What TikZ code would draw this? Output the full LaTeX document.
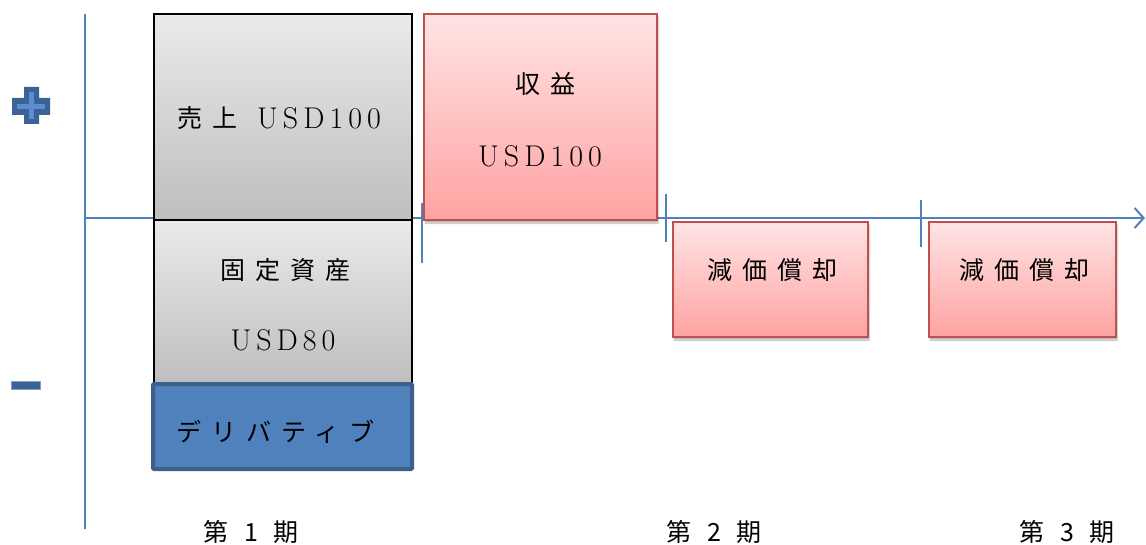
\documentclass[tikz,border=0pt]{standalone}
\usepackage{fontspec}
\setmainfont{Latin Modern Roman}
\newfontfamily\jp[LetterSpace=40]{Noto Sans CJK JP}
\newfontfamily\lat{Latin Modern Roman}
\newcommand\usdh{U\kern5pt S\kern5pt D\kern5pt 1\kern5pt 0\kern5pt 0}
\newcommand\usde{U\kern5pt S\kern5pt D\kern5pt 8\kern5pt 0}
\usetikzlibrary{arrows.meta,shadows.blur}
\definecolor{axisblue}{HTML}{4F81BD}
\definecolor{darkblue}{HTML}{3B6396}
\definecolor{lightcross}{HTML}{5A8ED0}
\definecolor{pinkedge}{HTML}{C0504D}
\definecolor{pinktop}{HTML}{FFE4E4}
\definecolor{pinkbot}{HTML}{FFA2A2}
\definecolor{graytop}{HTML}{EAEAEA}
\definecolor{graybot}{HTML}{BEBEBE}
\definecolor{derivfill}{HTML}{4F81BD}
\definecolor{derivedge}{HTML}{3C5F8C}
\begin{document}
\begin{tikzpicture}[x=1pt,y=-1pt,
  axisline/.style={draw=axisblue,line width=2pt},
  graybox/.style={draw=black,line width=2pt,top color=graytop,bottom color=graybot,inner sep=0pt},
  pinkbox/.style={draw=pinkedge,line width=1.6pt,top color=pinktop,bottom color=pinkbot,inner sep=0pt,
    blur shadow={shadow xshift=1pt,shadow yshift=-3pt,shadow blur steps=6,shadow opacity=30}},
  derivbox/.style={draw=derivedge,line width=4pt,fill=derivfill,inner sep=0pt,rounded corners=1pt},
  jtxt/.style={font=\fontsize{25}{28}\selectfont\jp,inner sep=0pt,text=black},
  ltxt/.style={font=\fontsize{30}{32}\selectfont\lat,inner sep=0pt,text=black},
  lbl/.style={font=\fontsize{25}{28}\selectfont\jp,inner sep=0pt,text=black}]
\useasboundingbox (0,0) rectangle (1146,545);
% axes
\coordinate (vtop) at (85,14);
\coordinate (vbot) at (85,529);
\coordinate (hleft) at (85,218);
\coordinate (hright) at (1145,218);
\draw[axisline] (vtop) -- (vbot);
\draw[axisline,-{Straight Barb[length=9pt,width=20pt,line width=2pt]}] (hleft) -- (hright);
\coordinate (t1a) at (422,203); \coordinate (t1b) at (422,263);
\coordinate (t2a) at (666,194); \coordinate (t2b) at (666,242);
\coordinate (t3a) at (921,200); \coordinate (t3b) at (921,247);
\draw[axisline] (t1a) -- (t1b);
\draw[axisline] (t2a) -- (t2b);
\draw[axisline] (t3a) -- (t3b);
% plus sign
\fill[darkblue] (24,87) -- (39,87) -- (39,98) -- (50,98) -- (50,115) -- (39,115) -- (39,124) -- (24,124) -- (24,115) -- (12,115) -- (12,98) -- (24,98) -- cycle;
\draw[lightcross,line width=5pt] (17,106.5) -- (45,106.5);
\draw[lightcross,line width=5pt] (31.5,92) -- (31.5,119);
% minus sign
\draw[darkblue!60!white,fill=darkblue,line width=1pt] (11,381) rectangle (40,389);
% period 1 boxes
\node[graybox,minimum width=258pt,minimum height=206pt] (sales) at (283,117) {};
\node[jtxt,anchor=west] (salesT1) at (177,118) {売上};
\node[ltxt,anchor=west] (salesT2) at (257,118) {\usdh};
\node[graybox,minimum width=258pt,minimum height=163pt] (asset) at (283,301.5) {};
\node[jtxt] (assetT1) at (285,270) {固定資産};
\node[ltxt] (assetT2) at (283,340) {\usde};
\node[derivbox,minimum width=259pt,minimum height=85pt] (deriv) at (282.5,426.5) {};
\node[jtxt,anchor=west] (derivT) at (176,432) {デリバティブ};
% revenue
\node[pinkbox,minimum width=233pt,minimum height=206pt] (rev) at (540.5,117) {};
\node[jtxt] (revT1) at (545,84) {収益};
\node[ltxt] (revT2) at (540,156) {\usdh};
% depreciation
\node[pinkbox,minimum width=195pt,minimum height=115pt] (dep1) at (770.5,279.5) {};
\node[jtxt] (dep1T) at (772,270) {減価償却};
\node[pinkbox,minimum width=187pt,minimum height=115pt] (dep2) at (1022.5,279.5) {};
\node[jtxt] (dep2T) at (1024,270) {減価償却};
% period labels
\node[lbl] (p1) at (251,532) {第 1 期};
\node[lbl] (p2) at (714,532) {第 2 期};
\node[lbl] (p3) at (1067,532) {第 3 期};
\end{tikzpicture}
\end{document}
